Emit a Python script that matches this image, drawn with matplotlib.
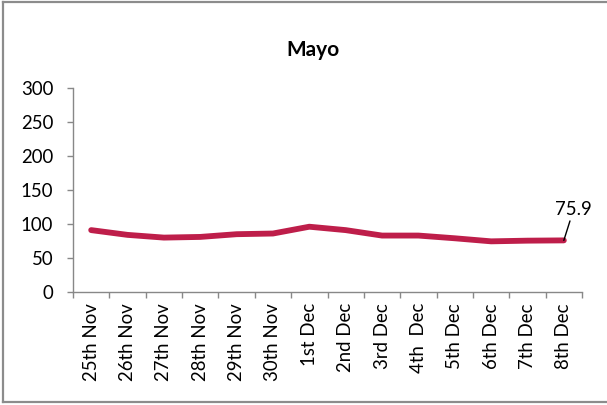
import matplotlib
matplotlib.use("Agg")
import matplotlib.pyplot as plt
from matplotlib.lines import Line2D

categories = ["25th Nov", "26th Nov", "27th Nov", "28th Nov", "29th Nov", "30th Nov",
              "1st Dec", "2nd Dec", "3rd Dec", "4th  Dec", "5th Dec", "6th Dec",
              "7th Dec", "8th Dec"]
values = [91, 84, 80, 81, 85, 86, 96, 91, 83, 83, 79, 74.5, 75.5, 75.9]
yticks = [0, 50, 100, 150, 200, 250, 300]

plt.rcParams['font.family'] = ['Lato', 'DejaVu Sans']

fig = plt.figure(figsize=(6.07, 4.05), dpi=100)
W, H = 607, 405
L, R, T, B = 73, 582, 88, 292
ax = fig.add_axes([L / W, 1 - B / H, (R - L) / W, (B - T) / H])

x = list(range(len(categories)))
ax.plot(x, values, color="#BE1E4A", lw=4.2, solid_capstyle="round", solid_joinstyle="round")
ax.set_xlim(-0.5, len(categories) - 0.5)
ax.set_ylim(0, 300)
ax.set_yticks(yticks)
ax.set_yticklabels([str(v) for v in yticks], fontsize=13.4)
ax.set_xticks(x)
ax.set_xticklabels(categories, rotation=90, fontsize=13.4)
ax.set_xticks([i - 0.5 for i in range(len(categories) + 1)], minor=True)
ax.tick_params(axis="x", which="major", length=0, pad=8)
ax.tick_params(axis="x", which="minor", length=4, color="#888888", width=1)
ax.tick_params(axis="y", length=4.3, color="#888888", width=1, pad=10)
for s in ["top", "right"]:
    ax.spines[s].set_visible(False)
for s in ["left", "bottom"]:
    ax.spines[s].set_color("#888888")
    ax.spines[s].set_linewidth(1)

last = len(values) - 1
ax.annotate(f"{values[last]}", xy=(last, values[last]), xytext=(7, 16),
            textcoords="offset points", fontsize=13.4, ha="center", va="bottom",
            arrowprops=dict(arrowstyle="-", color="black", lw=1, shrinkA=0, shrinkB=0))

fig.text(313 / W, 1 - 50 / H, "Mayo", ha="center", va="center",
         fontsize=15, fontweight="bold")

border = dict(color="#8c8c8c", lw=1.6, transform=fig.transFigure)
fig.lines.append(Line2D([3.3 / W, 3.3 / W], [1 - 2 / H, 1 - 401.5 / H], **border))
fig.lines.append(Line2D([3.3 / W, 1], [1 - 2 / H, 1 - 2 / H], **border))
fig.lines.append(Line2D([3.3 / W, 1], [1 - 401.5 / H, 1 - 401.5 / H], **border))

fig.savefig("out.png", dpi=100)
